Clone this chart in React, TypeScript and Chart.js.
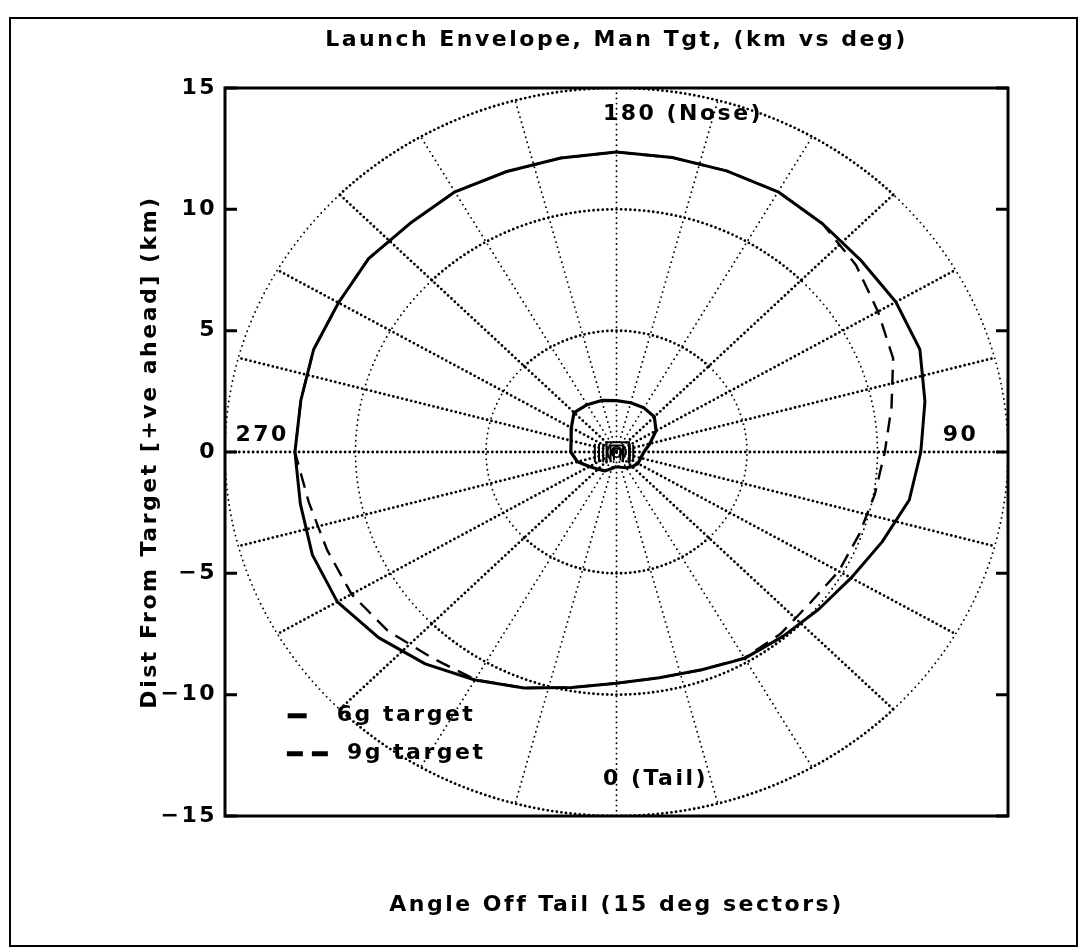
import React, { useEffect, useRef } from 'react';
import { Chart, registerables } from 'chart.js';

Chart.register(...registerables);

// ---------------- data ----------------
const chartTitle = 'Launch Envelope, Man Tgt, (km vs deg)';
const xAxisTitle = 'Angle Off Tail (15 deg sectors)';
const yAxisTitle = 'Dist From Target [+ve ahead] (km)';
const seriesNames = ['6g target', '9g target'];

const yTickValues = [-15, -10, -5, 0, 5, 10, 15];
const ringRadii = [5, 10, 15];
const spokeAnglesDeg = [0, 15, 30, 45, 60, 75, 90, 105, 120, 135, 150, 165, 180, 195, 210, 225, 240, 255, 270, 285, 300, 315, 330, 345];
const compassLabels = ['0 (Tail)', '90', '180 (Nose)', '270'];

// angle off tail (deg) and launch range (km)
const envelopeAnglesDeg = [0, 10, 20, 30, 40, 50, 60, 70, 80, 90, 100, 110, 120, 130, 140, 150, 160, 170, 180, 190, 200, 210, 220, 230, 240, 250, 260, 270, 280, 290, 300, 310, 320, 330, 340, 350, 360];
const range6g = [9.53, 9.45, 9.55, 9.82, 9.92, 10.1, 10.38, 10.83, 11.39, 11.66, 12.0, 12.37, 12.36, 12.25, 12.28, 12.38, 12.33, 12.32, 12.36, 12.3, 12.3, 12.38, 12.3, 12.4, 12.3, 12.35, 12.28, 12.32, 12.3, 12.4, 12.35, 11.9, 11.4, 10.85, 10.35, 9.85, 9.53];
const range9g = [9.53, 9.45, 9.55, 9.8, 9.78, 9.68, 9.83, 9.9, 10.05, 10.28, 10.7, 11.28, 11.57, 11.98, 12.28, 12.38, 12.33, 12.32, 12.36, 12.3, 12.3, 12.38, 12.3, 12.4, 12.3, 12.35, 12.28, 12.32, 11.97, 11.8, 11.72, 11.45, 11.05, 10.83, 10.35, 9.85, 9.53];

// minimum range boundary (km)
const minRangeAnglesDeg = [0, 15, 30, 45, 60, 75, 90, 105, 120, 135, 150, 165, 180, 195, 210, 225, 240, 255, 270, 285, 300, 315, 330, 345, 360];
const minRange = [0.6, 0.65, 0.75, 0.85, 0.95, 0.96, 1.05, 1.32, 1.75, 2.05, 2.1, 2.1, 2.12, 2.2, 2.25, 2.3, 2.0, 1.8, 1.75, 1.55, 1.2, 1.0, 0.9, 0.7, 0.6];

// inner hatching traces near the target (km), null separates traces
const hatchX = [-0.83, -0.83, null, -0.67, -0.67, null, -0.51, -0.51, null, 0.51, 0.51, null, 0.64, 0.64, null,
  -0.38, -0.38, 0.48, 0.48, null, -0.23, -0.23, 0.25, 0.25, null, -0.1, -0.1, 0.15, 0.15];
const hatchY = [0.34, -0.42, null, 0.34, -0.42, null, 0.34, -0.42, null, 0.34, -0.42, null, 0.3, -0.4, null,
  -0.47, 0.4, 0.4, -0.47, null, -0.42, 0.27, 0.27, -0.42, null, -0.35, 0.13, 0.13, -0.35];

// ---------------- helpers ----------------
const FONT = '"DejaVu Sans", sans-serif';
const FSIZE = 22;
const rad = (d: number) => (d * Math.PI) / 180;
const toXY = (deg: number, r: number) => ({ x: r * Math.sin(rad(deg)), y: -r * Math.cos(rad(deg)) });

const boldDot = { borderWidth: 2.8, borderDash: [0, 4.6], borderCapStyle: 'round' as const };
const fineDot = { borderWidth: 1.9, borderDash: [0, 5.2], borderCapStyle: 'round' as const };

function gridDatasets() {
  const sets: any[] = [];
  const arcs = [
    { from: -45, to: 45, bold: true },
    { from: 45, to: 135, bold: false },
    { from: 135, to: 225, bold: true },
    { from: 225, to: 315, bold: false },
  ];
  ringRadii.forEach((r) => {
    arcs.forEach((a) => {
      const pts: { x: number; y: number }[] = [];
      for (let d = a.from; d <= a.to; d += 1) pts.push(toXY(d, r));
      sets.push({
        data: pts,
        showLine: true,
        pointRadius: 0,
        borderColor: '#000',
        order: 10,
        ...(a.bold ? boldDot : fineDot),
      });
    });
  });
  spokeAnglesDeg.forEach((a) => {
    const horizontalish = Math.abs(Math.sin(rad(a))) * 26.1 >= Math.abs(Math.cos(rad(a))) * 24.25 - 0.01;
    sets.push({
      data: [toXY(a, 0), toXY(a, ringRadii[ringRadii.length - 1])],
      showLine: true,
      pointRadius: 0,
      borderColor: '#000',
      order: 10,
      ...(horizontalish ? boldDot : fineDot),
    });
  });
  return sets;
}

const overlayPlugin = {
  id: 'overlay',
  beforeUpdate(chart: any) {
    chart.ctx.letterSpacing = '2.5px';
  },
  beforeDraw(chart: any) {
    chart.ctx.letterSpacing = '2.5px';
  },
  afterDraw(chart: any, _args: any, opts: any) {
    const { ctx, chartArea, scales } = chart;
    const xs = scales.x;
    const ys = scales.y;
    ctx.save();
    ctx.strokeStyle = '#000';
    ctx.fillStyle = '#000';
    ctx.setLineDash([]);
    // frame
    ctx.lineWidth = 3;
    ctx.strokeRect(chartArea.left, chartArea.top, chartArea.right - chartArea.left, chartArea.bottom - chartArea.top);
    // inside tick marks on left and right
    yTickValues.forEach((v) => {
      const py = ys.getPixelForValue(v);
      ctx.beginPath();
      ctx.moveTo(chartArea.left, py);
      ctx.lineTo(chartArea.left + 12, py);
      ctx.moveTo(chartArea.right - 12, py);
      ctx.lineTo(chartArea.right, py);
      ctx.stroke();
    });
    // compass labels
    ctx.font = `bold ${FSIZE}px ${FONT}`;
    ctx.letterSpacing = '2.5px';
    ctx.textAlign = 'left';
    ctx.textBaseline = 'middle';
    opts.labels.forEach((l: any) => {
      ctx.fillText(l.text, xs.getPixelForValue(l.x), ys.getPixelForValue(l.y));
    });
    // legend
    opts.legend.forEach((l: any) => {
      const py = ys.getPixelForValue(l.y);
      ctx.lineWidth = 5;
      ctx.lineCap = 'butt';
      ctx.setLineDash(l.dash);
      ctx.beginPath();
      ctx.moveTo(xs.getPixelForValue(l.x0), py);
      ctx.lineTo(xs.getPixelForValue(l.x1), py);
      ctx.stroke();
      ctx.setLineDash([]);
      ctx.fillText(l.text, xs.getPixelForValue(l.tx), py);
    });
    ctx.restore();
  },
};

export default function App() {
  const canvasRef = useRef<HTMLCanvasElement | null>(null);

  useEffect(() => {
    if (!canvasRef.current) return;
    const datasets: any[] = [
      {
        label: seriesNames[0],
        data: envelopeAnglesDeg.map((a, i) => toXY(a, range6g[i])),
        showLine: true,
        pointRadius: 0,
        borderColor: '#000',
        borderWidth: 3,
        borderJoinStyle: 'round',
        order: 0,
      },
      {
        label: seriesNames[1],
        data: envelopeAnglesDeg.map((a, i) => toXY(a, range9g[i])),
        showLine: true,
        pointRadius: 0,
        borderColor: '#000',
        borderWidth: 2.4,
        borderDash: [15, 9],
        order: 1,
      },
      {
        label: 'min range',
        data: minRangeAnglesDeg.map((a, i) => toXY(a, minRange[i])),
        showLine: true,
        pointRadius: 0,
        borderColor: '#000',
        borderWidth: 3.2,
        borderJoinStyle: 'round',
        order: 0,
      },
      {
        label: 'hatch',
        data: hatchX.map((x, i) => ({ x: x, y: hatchY[i] })),
        showLine: true,
        spanGaps: false,
        pointRadius: 0,
        borderColor: '#000',
        borderWidth: 2,
        order: 0,
      },
      ...gridDatasets(),
    ];

    const chart = new Chart(canvasRef.current, {
      type: 'scatter',
      data: { datasets },
      plugins: [overlayPlugin],
      options: {
        animation: false,
        responsive: false,
        devicePixelRatio: 1,
        events: [],
        layout: { padding: { left: 0, right: 76, top: 0, bottom: 0 } },
        scales: {
          x: {
            type: 'linear',
            min: -15,
            max: 15,
            ticks: { display: false },
            grid: { display: false, drawTicks: false },
            border: { display: false },
            title: {
              display: true,
              text: xAxisTitle,
              color: '#000',
              font: { family: FONT, size: FSIZE, weight: 'bold' },
              padding: { top: 0, bottom: 34 },
            },
            afterFit: (s: any) => {
              s.height = 136;
            },
          },
          y: {
            type: 'linear',
            min: -15,
            max: 15,
            ticks: {
              stepSize: 5,
              color: '#000',
              padding: 8,
              font: { family: FONT, size: FSIZE, weight: 'bold' },
              callback: (v: any) => (Number(v) < 0 ? '\u2212' + Math.abs(Number(v)) : String(v)),
            },
            grid: { display: false, drawTicks: false },
            border: { display: false },
            title: {
              display: true,
              text: yAxisTitle,
              color: '#000',
              font: { family: FONT, size: FSIZE, weight: 'bold' },
              padding: { top: 137, bottom: 0 },
            },
            afterFit: (s: any) => {
              s.width = 225;
            },
          },
        },
        plugins: {
          legend: { display: false },
          tooltip: { enabled: false },
          title: {
            display: true,
            text: chartTitle,
            color: '#000',
            fullSize: false,
            font: { family: FONT, size: FSIZE, weight: 'bold' },
            padding: { top: 27, bottom: 34.6 },
          },
          overlay: {
            labels: [
              { text: compassLabels[0], x: -0.52, y: -13.5 },
              { text: compassLabels[1], x: 12.5, y: 0.68 },
              { text: compassLabels[2], x: -0.52, y: 13.9 },
              { text: compassLabels[3], x: -14.6, y: 0.68 },
            ],
            legend: [
              { text: seriesNames[0], x0: -12.6, x1: -11.87, dash: [], tx: -10.72, y: -10.87 },
              { text: seriesNames[1], x0: -12.63, x1: -11.06, dash: [16, 9], tx: -10.33, y: -12.43 },
            ],
          },
        } as any,
      },
    });
    return () => chart.destroy();
  }, []);

  return (
    <div style={{ position: 'absolute', left: 0, top: 0, width: 1084, height: 952, background: '#fff' }}>
      <div
        style={{
          position: 'absolute',
          left: 9,
          top: 17,
          width: 1069,
          height: 930,
          border: '2px solid #000',
          boxSizing: 'border-box',
        }}
      />
      <canvas ref={canvasRef} width={1084} height={952} style={{ position: 'absolute', left: 0, top: 0, display: 'block' }} />
    </div>
  );
}
